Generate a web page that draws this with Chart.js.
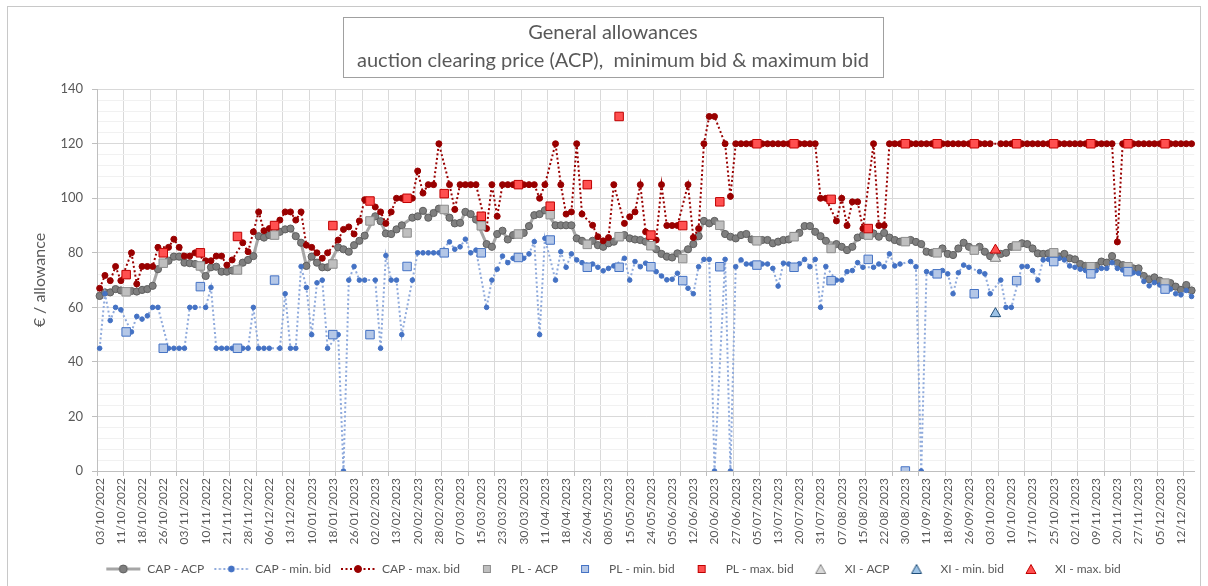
<!DOCTYPE html>
<html><head><meta charset="utf-8">
<script src="https://cdn.jsdelivr.net/npm/chart.js@4/dist/chart.umd.min.js"></script>
<style>html,body{margin:0;padding:0;background:#fff;overflow:hidden}#wrap{width:1208px;height:586px;position:relative}</style>
</head><body><div id="wrap"><canvas id="c" width="1208" height="586"></canvas></div>
<script>
// ---------- DATA ----------
const tickLabels = ['03/10/2022','11/10/2022','18/10/2022','26/10/2022','03/11/2022','10/11/2022','21/11/2022','28/11/2022','06/12/2022','13/12/2022',
 '10/01/2023','18/01/2023','26/01/2023','02/02/2023','13/02/2023','20/02/2023','28/02/2023','07/03/2023','15/03/2023','23/03/2023',
 '30/03/2023','11/04/2023','18/04/2023','26/04/2023','08/05/2023','15/05/2023','24/05/2023','05/06/2023','12/06/2023','20/06/2023',
 '27/06/2023','05/07/2023','13/07/2023','20/07/2023','31/07/2023','07/08/2023','15/08/2023','22/08/2023','30/08/2023','11/09/2023',
 '18/09/2023','26/09/2023','03/10/2023','10/10/2023','17/10/2023','25/10/2023','02/11/2023','09/11/2023','20/11/2023','27/11/2023',
 '05/12/2023','12/12/2023'];

// CAP auctions (null = auction day of another platform)
const capAcp = [
 64.2,65.5,65.5,66.7,66.2,null,66.0,65.8,66.4,66.7,
 67.9,74.0,null,77.1,78.6,78.6,76.4,76.2,75.9,null,
 71.5,74.7,74.9,73.1,73.1,73.5,null,76.4,77.4,78.8,
 86.1,85.6,86.5,null,87.7,88.6,88.9,86.1,83.7,75.2,
 78.6,76.4,74.7,74.7,null,82.0,81.3,80.4,82.8,84.4,
 86.3,null,93.4,91.6,87.1,86.9,88.6,90.1,null,92.9,
 93.4,95.4,92.9,94.6,96.2,null,92.9,90.8,91.0,95.0,
 94.2,92.2,null,83.2,82.2,86.9,88.1,84.9,86.5,null,
 87.3,89.8,93.8,94.2,95.6,null,90.1,90.1,90.1,90.1,
 85.3,84.4,null,84.4,82.8,82.2,83.5,84.1,null,86.5,
 85.3,84.9,84.7,84.1,null,81.3,79.6,78.6,78.3,79.8,
 null,81.3,83.2,86.1,91.7,90.8,91.7,null,86.9,85.9,
 85.3,86.5,86.9,84.9,null,84.7,84.7,83.5,84.1,84.7,
 84.9,null,87.3,89.8,89.8,87.7,86.1,84.4,null,83.2,
 82.2,81.0,82.2,85.6,86.5,null,87.1,85.9,87.3,85.6,
 84.7,84.1,null,84.7,84.0,83.2,80.4,80.0,null,81.6,
 79.6,79.2,81.6,83.7,82.2,null,82.2,80.4,78.8,null,
 79.6,80.0,82.2,null,83.5,83.2,81.6,79.8,79.6,79.8,
 null,78.6,79.6,78.0,77.6,75.9,75.2,null,75.2,76.8,
 76.4,78.8,76.2,75.5,null,74.3,74.3,71.5,70.3,71.0,
 69.8,null,68.9,67.6,66.4,68.2,66.2];

const capMin = [
 45,65,55.2,60,59.1,null,51,56.7,55.7,56.9,
 60,60,null,45,45,45,45,60,60,null,
 60,67.3,45,45,45,45,null,45,45,60,
 45,45,45,null,45,65,45,45,75,67.3,
 50,69,70,45,null,50,0,70,75,70,
 70,null,70,45,79,70,70,50,null,70,
 80,80,80,80,80,null,84,81.3,82.2,85,
 80,81,null,60,70,74,78.8,76.4,78,null,
 78,79.6,84.1,50,85.3,null,70,80.4,74.7,79.6,
 77.4,76.4,null,75.9,74.7,73.4,74.3,75.2,null,78,
 70,76.8,74.9,76.2,null,73.1,71.5,70.1,70.3,72.5,
 null,67,65,74.9,77.6,77.6,0,null,77.6,0,
 74.9,77.4,75.9,75.9,null,75.9,75.9,74.3,67.8,76.2,
 75.9,null,76,77.6,74.9,77.6,60,75,null,70,
 70,73.1,73.5,76.4,74.7,null,74.7,75.9,74.9,79.6,
 75.2,75.9,null,76.8,74.9,0,73.1,72.5,null,73.5,
 72.3,65,72.7,75.5,74.7,null,73.1,72.3,65,null,
 70,60,60,null,75,75,73.5,70,77.4,77.6,
 null,78,77.4,75.2,74.7,74,73.5,null,73.5,74.3,
 74.3,76.4,74.3,73.7,null,72.7,72.5,69.5,67.9,69.1,
 68.2,null,66.7,65,64.6,66.2,64];

const capMax = [
 67,71.7,69.8,75,69.8,null,80,68.6,75,75,
 75,82,null,82,85,82,78.8,78.8,80,null,
 77.1,77.1,78.8,78.8,75.5,77.4,null,83.7,80.4,87.7,
 95,88.1,88.9,null,92,95,95,92,95,82.8,
 82,80,78,80,null,84.7,88.6,89.5,86.9,91.7,
 99.5,null,96.8,95,90.8,95,100,100,null,100,
 110,101.9,105,105,120,null,105,95.9,105,105,
 105,105,null,88.9,105,93.4,105,105,105,null,
 105,105,105,100,105,null,120,105,94.2,95,
 120,94.2,null,90.1,85.9,84.4,85.6,105,null,90.8,
 93.2,95,105,87.7,null,84.7,105,90,90,90,
 null,105,85.6,88.9,120,130,130,null,120,100.7,
 120,120,120,120,null,120,120,120,120,120,
 120,null,120,120,120,120,100,100,null,91.7,
 100,90,98.7,98.7,88.9,null,120,90,90,120,
 120,120,null,120,120,120,120,120,null,120,
 120,120,120,120,120,null,120,120,120,null,
 120,120,120,null,120,120,120,120,120,120,
 null,120,120,120,120,120,120,null,120,120,
 120,120,84,120,null,120,120,120,120,120,
 120,null,120,120,120,120,120];

// PL auctions: auction number in the sequence, and values
const plAuctionNo = [5,12,19,26,33,44,51,58,65,72,79,85,92,98,104,110,117,124,131,138,145,152,158,165,173,180,187,194,201];
const plAcp = [65.7,76.2,75.2,73.7,86.5,75.9,91.7,87.3,95.9,89.9,86.9,94,83.1,85.9,82.6,77.9,90.1,84.4,85.9,81.6,86.5,84.1,80,81,82.5,80,74.9,74.9,68.9];
const plMin = [51,45,67.6,45,70,50,50,75,80,80,78.3,84.7,74.7,74.7,74.9,69.8,74.9,75.5,74.7,69.8,77.6,0,72.3,65,69.8,76.8,72.3,73.1,66.7];
const plMax = [72,80,80,86,90,90,99,100,101.7,93.4,105,97.1,105,130,86.5,90,98.7,120,120,99.6,88.9,120,120,120,120,120,120,120,120];

// XI auctions
const xiAuctionNo = [169];
const xiAcp = [78];
const xiMin = [57.7];
const xiMax = [81];

// ---------- BUILD ----------
const categories = capAcp.map((_, i) => (i % 4 === 0 && tickLabels[i / 4]) ? tickLabels[i / 4] : '');
function spread(idx, vals) {
  const a = capAcp.map(() => null);
  idx.forEach((d, k) => { a[d] = vals[k]; });
  return a;
}
const FONT = 'Lato';
const TXT = '#595959';

function icon(fn) {
  const c = document.createElement('canvas');
  c.width = 36; c.height = 14;
  const g = c.getContext('2d');
  fn(g);
  return c;
}
function lineIcon(color, w, dash, mFill, mStroke, r) {
  return icon(g => {
    g.strokeStyle = color; g.lineWidth = w; g.setLineDash(dash);
    g.beginPath(); g.moveTo(1, 7); g.lineTo(35, 7); g.stroke();
    g.setLineDash([]);
    g.beginPath(); g.arc(18, 7, r, 0, Math.PI * 2);
    g.fillStyle = mFill; g.fill(); g.strokeStyle = mStroke; g.lineWidth = 1; g.stroke();
  });
}
function squareIcon(fill, stroke) {
  return icon(g => { g.fillStyle = fill; g.fillRect(14, 3, 8, 8); g.strokeStyle = stroke; g.lineWidth = 1; g.strokeRect(14.5, 3.5, 7, 7); });
}
function triIcon(fill, stroke) {
  return icon(g => { g.beginPath(); g.moveTo(18, 2.5); g.lineTo(23, 11.5); g.lineTo(13, 11.5); g.closePath(); g.fillStyle = fill; g.fill(); g.strokeStyle = stroke; g.lineWidth = 1; g.stroke(); });
}

const styles = [
  {label:'CAP - ACP', data: capAcp, showLine:true, borderColor:'#a6a6a6', borderWidth:3, pointStyle:'circle', pointRadius:3.6, pointBackgroundColor:'#7f7f7f', pointBorderColor:'#5f5f5f', pointBorderWidth:1,
   icon: lineIcon('#a6a6a6', 3, [], '#7f7f7f', '#5f5f5f', 4)},
  {label:'CAP - min. bid', data: capMin, showLine:true, borderColor:'#8faadc', borderWidth:2, borderDash:[2,2.5], pointStyle:'circle', pointRadius:2.3, pointBackgroundColor:'#4472c4', pointBorderColor:'#4472c4', pointBorderWidth:1,
   icon: lineIcon('#8faadc', 2, [2,2.5], '#4472c4', '#4472c4', 3)},
  {label:'CAP - max. bid', data: capMax, showLine:true, borderColor:'#990000', borderWidth:2, borderDash:[2,2.5], pointStyle:'circle', pointRadius:3, pointBackgroundColor:'#990000', pointBorderColor:'#990000', pointBorderWidth:1,
   icon: lineIcon('#990000', 2, [2,2.5], '#990000', '#990000', 3.5)},
  {label:'PL - ACP', data: spread(plAuctionNo, plAcp), showLine:false, pointStyle:'rect', pointRadius:6, pointBackgroundColor:'#bfbfbf', pointBorderColor:'#8c8c8c', pointBorderWidth:1,
   icon: squareIcon('#bfbfbf', '#8c8c8c')},
  {label:'PL - min. bid', data: spread(plAuctionNo, plMin), showLine:false, pointStyle:'rect', pointRadius:6, pointBackgroundColor:'#b4c7e7', pointBorderColor:'#4472c4', pointBorderWidth:1,
   icon: squareIcon('#b4c7e7', '#4472c4')},
  {label:'PL - max. bid', data: spread(plAuctionNo, plMax), showLine:false, pointStyle:'rect', pointRadius:6, pointBackgroundColor:'#ff5050', pointBorderColor:'#c00000', pointBorderWidth:1,
   icon: squareIcon('#ff5050', '#c00000')},
  {label:'XI - ACP', data: spread(xiAuctionNo, xiAcp), showLine:false, pointStyle:'triangle', pointRadius:6, pointBackgroundColor:'#d9d9d9', pointBorderColor:'#7f7f7f', pointBorderWidth:1,
   icon: triIcon('#d9d9d9', '#7f7f7f')},
  {label:'XI - min. bid', data: spread(xiAuctionNo, xiMin), showLine:false, pointStyle:'triangle', pointRadius:6, pointBackgroundColor:'#9dc3e6', pointBorderColor:'#1f4e79', pointBorderWidth:1,
   icon: triIcon('#9dc3e6', '#1f4e79')},
  {label:'XI - max. bid', data: spread(xiAuctionNo, xiMax), showLine:false, pointStyle:'triangle', pointRadius:6, pointBackgroundColor:'#ff5050', pointBorderColor:'#c00000', pointBorderWidth:1,
   icon: triIcon('#ff5050', '#c00000')}
];
const icons = styles.map(s => s.icon);
const datasets = styles.map((s, i) => {
  const d = Object.assign({}, s);
  delete d.icon;
  d.order = 20 - i;
  d.spanGaps = true;
  d.tension = 0;
  d.fill = false;
  d.pointHoverRadius = d.pointRadius;
  return d;
});

const framePlugin = {
  id: 'frame',
  beforeDraw(chart) {
    const ctx = chart.ctx;
    ctx.save();
    ctx.fillStyle = '#ffffff'; ctx.fillRect(0, 0, chart.width, chart.height);
    ctx.strokeStyle = '#c8c8c8'; ctx.lineWidth = 1;
    ctx.strokeRect(7.5, 6.5, chart.width - 15, chart.height + 10);
    ctx.restore();
  },
  afterDraw(chart) {
    const t = chart.titleBlock; const o = t.options;
    const f = Chart.helpers.toFont(o.font);
    const pad = Chart.helpers.toPadding(o.padding);
    const ctx = chart.ctx;
    ctx.save();
    ctx.font = f.string;
    const w = Math.max(...o.text.map(s => ctx.measureText(s).width));
    const cx = (t.left + t.right) / 2;
    const top = t.top + pad.top - 2;
    const h = o.text.length * f.lineHeight + 5;
    ctx.strokeStyle = '#a0a0a0'; ctx.lineWidth = 1;
    ctx.strokeRect(Math.round(cx - w / 2 - 14) + 0.5, Math.round(top) + 0.5, Math.round(w + 28), Math.round(h));
    ctx.restore();
  }
};

new Chart(document.getElementById('c'), {
  type: 'line',
  data: { labels: categories, datasets },
  plugins: [framePlugin],
  options: {
    responsive: false,
    devicePixelRatio: 1,
    animation: false,
    events: [],
    layout: { padding: { left: 30, right: 12, top: 10, bottom: 1 } },
    plugins: {
      title: {
        display: true,
        text: ['General allowances', 'auction clearing price (ACP),  minimum bid & maximum bid'],
        color: TXT,
        font: { family: FONT, size: 20, weight: 'normal', lineHeight: 1.38 },
        padding: { top: 9, bottom: 15 }
      },
      legend: {
        position: 'bottom',
        labels: {
          usePointStyle: true,
          pointStyleWidth: 36,
          padding: 9,
          color: TXT,
          font: { family: FONT, size: 12 },
          generateLabels: (chart) => chart.data.datasets.map((ds, i) => ({
            text: ds.label, pointStyle: icons[i], fillStyle: 'rgba(0,0,0,0)', strokeStyle: 'rgba(0,0,0,0)',
            lineWidth: 0, hidden: false, datasetIndex: i, fontColor: TXT
          }))
        }
      },
      tooltip: { enabled: false }
    },
    scales: {
      x: {
        type: 'category',
        offset: true,
        afterFit: (s) => { s.height = 83; },
        grid: {
          offset: true,
          color: (c) => c.index % 5 === 0 ? '#d9d9d9' : 'rgba(0,0,0,0)',
          tickColor: (c) => c.index % 5 === 0 ? '#bfbfbf' : 'rgba(0,0,0,0)',
          tickLength: 5,
          lineWidth: 1
        },
        border: { display: true, color: '#bfbfbf' },
        ticks: {
          autoSkip: false, maxRotation: 90, minRotation: 90, padding: 2,
          color: TXT, font: { family: FONT, size: 12 }
        }
      },
      y: {
        min: 0, max: 140,
        afterFit: (s) => { s.width = 67; },
        grid: {
          color: (c) => c.tick && c.tick.value % 20 === 0 ? '#d9d9d9' : '#f1f1f1',
          tickColor: (c) => c.tick && c.tick.value % 20 === 0 ? '#bfbfbf' : 'rgba(0,0,0,0)',
          tickLength: 5
        },
        border: { display: true, color: '#bfbfbf' },
        ticks: {
          stepSize: 4, autoSkip: false, padding: 9,
          color: TXT, font: { family: FONT, size: 13 },
          callback: (v) => v % 20 === 0 ? v : ''
        },
        title: {
          display: true, text: '€ / allowance', color: TXT,
          font: { family: FONT, size: 16 }, padding: { top: 0, bottom: 0 }
        }
      }
    }
  }
});
</script>
</body></html>
